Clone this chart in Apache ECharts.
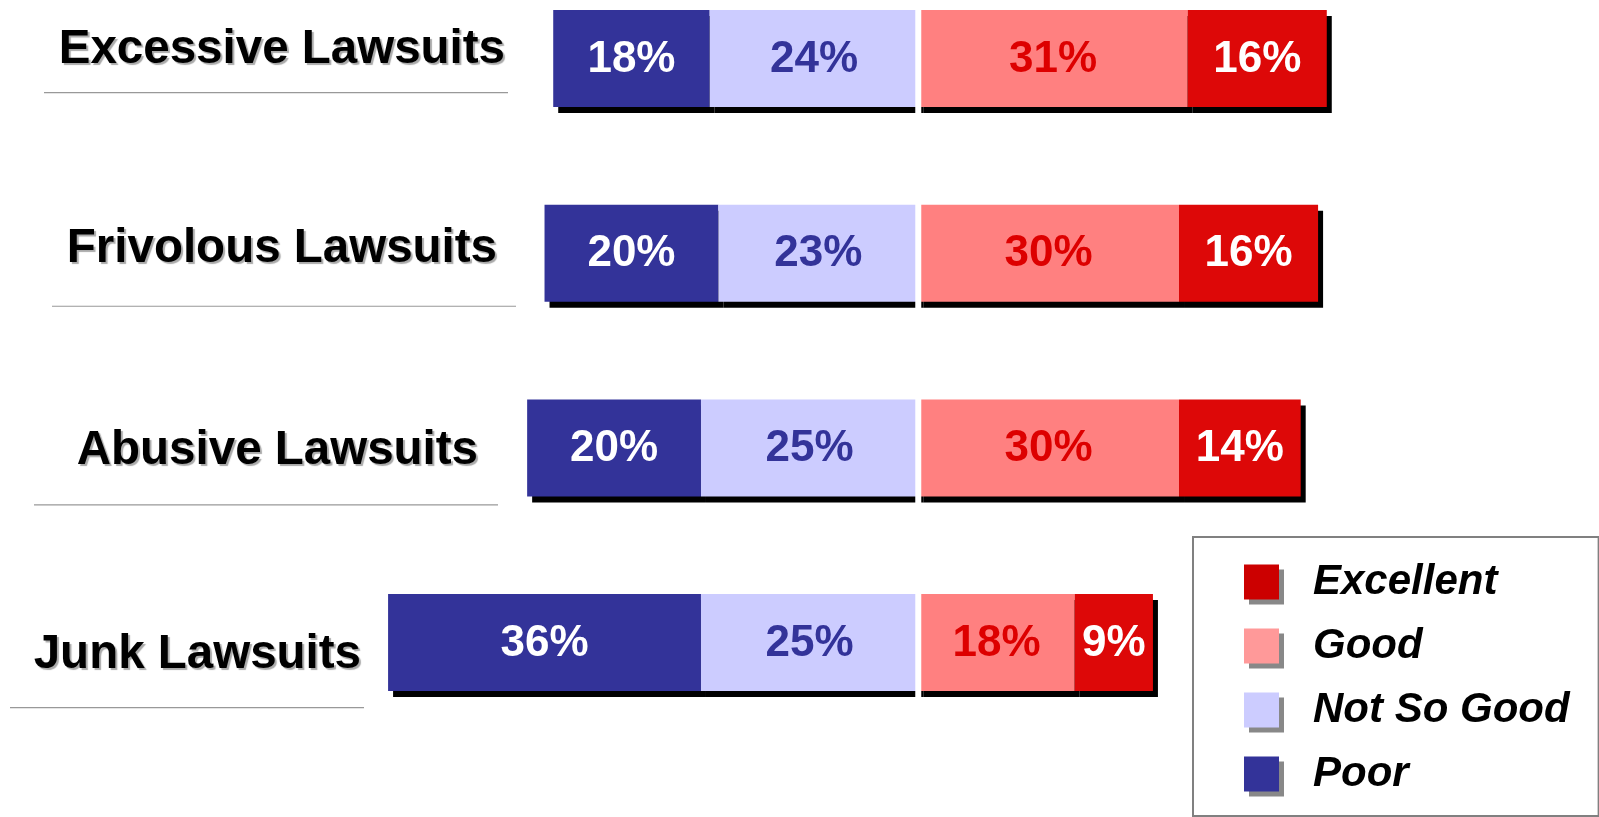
<!DOCTYPE html>
<html>
<head>
<meta charset="utf-8">
<script src="https://cdn.jsdelivr.net/npm/echarts@6/dist/echarts.min.js"></script>
<style>
html,body{margin:0;padding:0;background:#fff;}
#chart{width:1599px;height:817px;}
</style>
</head>
<body>
<div id="chart"></div>
<script>
// ---- data ----
const categories = ['Excessive Lawsuits', 'Frivolous Lawsuits', 'Abusive Lawsuits', 'Junk Lawsuits'];
const poor = [18, 20, 20, 36];
const notSoGood = [24, 23, 25, 25];
const good = [31, 30, 30, 18];
const excellent = [16, 16, 14, 9];
const legendNames = ['Excellent', 'Good', 'Not So Good', 'Poor'];

// ---- layout (pixels, not data) ----
const labelRightX = [505, 497, 478, 361];
const labelDy = [-9, -4, 3, 12];
const ruleX0 = [44, 52, 34, 10];
const ruleX1 = [508, 516, 498, 364];
const ruleDy = [34, 53, 57, 65];
const BAR_W = 97;
const GAP_W = 6;

const FONT = '"Liberation Sans", Arial, sans-serif';
const C_POOR = '#333399', C_NSG = '#CCCCFF', C_GOOD = '#FF8080', C_EXC = '#DD0808';
const barShadow = {shadowColor: '#000', shadowBlur: 0, shadowOffsetX: 5, shadowOffsetY: 6};

function barLabel(color) {
  return {
    show: true, position: 'inside', color: color, offset: [0, 1],
    fontFamily: FONT, fontWeight: 'bold', fontSize: 44,
    formatter: p => Math.abs(p.value) + '%'
  };
}

function barSeries(name, values, sign, color, labelColor, z) {
  return {
    name: name, type: 'bar', stack: 'all', barWidth: BAR_W, z: z, clip: false,
    data: values.map(v => sign * v),
    itemStyle: Object.assign({color: color}, barShadow),
    label: barLabel(labelColor)
  };
}

const chart = echarts.init(document.getElementById('chart'), null, {renderer: 'canvas'});
chart.setOption({
  animation: false,
  backgroundColor: '#fff',
  grid: {left: 362, width: 1043, top: 58.6, height: 584},
  xAxis: {type: 'value', min: -64, max: 56, show: false},
  yAxis: {type: 'category', data: categories, inverse: true, show: false, boundaryGap: false},
  legend: {
    orient: 'vertical', left: 1193, top: 537,
    padding: [24, 29, 21, 51],
    itemWidth: 35, itemHeight: 35, itemGap: 22,
    selectedMode: false,
    borderColor: '#808080', borderWidth: 2, backgroundColor: '#fff',
    icon: 'rect',
    itemStyle: {shadowColor: '#888', shadowBlur: 0, shadowOffsetX: 5, shadowOffsetY: 5, borderWidth: 0},
    textStyle: {fontFamily: FONT, fontStyle: 'italic', fontWeight: 'bold', fontSize: 42, lineHeight: 42, color: '#000', padding: [0, 0, 0, 29]},
    data: [
      {name: legendNames[0], itemStyle: {color: '#CC0000'}},
      {name: legendNames[1], itemStyle: {color: '#FF9999'}},
      {name: legendNames[2], itemStyle: {color: '#CCCCFF'}},
      {name: legendNames[3], itemStyle: {color: '#333399'}}
    ]
  },
  series: [
    barSeries('Not So Good', notSoGood, -1, C_NSG, '#333399', 3),
    barSeries('Poor', poor, -1, C_POOR, '#ffffff', 2),
    barSeries('Good', good, 1, C_GOOD, '#DD0000', 3),
    barSeries('Excellent', excellent, 1, C_EXC, '#ffffff', 4),
    {
      type: 'custom', silent: true, z: 10, clip: false,
      data: categories.map((c, i) => [0, i]),
      encode: {x: 0, y: 1},
      renderItem: function (params, api) {
        const i = params.dataIndex;
        const pt = api.coord([0, api.value(1)]);
        const cx = pt[0], cy = pt[1];
        return {
          type: 'group',
          children: [
            {
              type: 'rect',
              shape: {x: cx - GAP_W / 2, y: cy - BAR_W / 2 - 2, width: GAP_W, height: BAR_W + 10},
              style: {fill: '#fff'}
            },
            {
              type: 'text',
              style: {
                text: categories[i], x: labelRightX[i], y: cy + labelDy[i],
                align: 'right', verticalAlign: 'middle',
                font: 'bold 47.5px ' + FONT, fill: '#000',
                textShadowColor: '#aaaaaa', textShadowBlur: 1, textShadowOffsetX: 2, textShadowOffsetY: 2
              }
            },
            {
              type: 'line',
              shape: {x1: ruleX0[i], y1: cy + ruleDy[i], x2: ruleX1[i], y2: cy + ruleDy[i]},
              style: {stroke: '#999', lineWidth: 1.2}
            }
          ]
        };
      }
    }
  ]
});
</script>
</body>
</html>
